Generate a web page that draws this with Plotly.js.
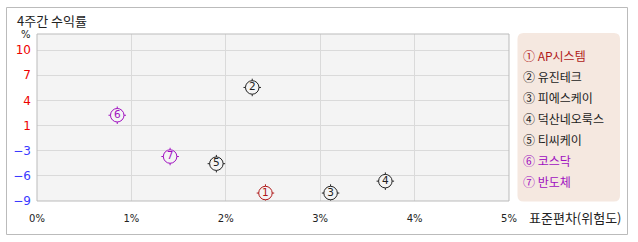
<!DOCTYPE html>
<html><head><meta charset="utf-8">
<script src="https://cdn.plot.ly/plotly-3.0.1.min.js"></script>
<style>body{margin:0;background:#fff}#c{width:638px;height:242px}</style>
</head><body><div id="c"></div>
<script>
var names = ['AP시스템','유진테크','피에스케이','덕산네오룩스','티씨케이','코스닥','반도체'];
var labels = ['①','②','③','④','⑤','⑥','⑦'];
var digits = ['1','2','3','4','5','6','7'];
var stdev = [2.42, 2.28, 3.11, 3.69, 1.90, 0.85, 1.41];
var ret = [-8.0, 5.3, -8.0, -6.5, -4.3, 1.8, -3.4];
var yTickText = ['-9','-6','-3','1','4','7','10'];
var xTickVals = [0,1,2,3,4,5];
var xTickText = ['0%','1%','2%','3%','4%','5%'];

var colorFor = ['#b01818','#222222','#222222','#222222','#222222','#a010c0','#a010c0'];
var W = 638, H = 242, L = 37, R = 129, T = 34, B = 41;
var pw = W - L - R, ph = H - T - B;
function px(x){return (x - L)/pw;}
function py(y){return (H - B - y)/ph;}

var yMin = -9, yMax = 10, nT = 6;
var yTickVals = yTickText.map(function(t,i){return yMin + i*(yMax-yMin)/nT;});
var yTickHtml = yTickText.map(function(t){
  var v = parseFloat(t);
  return '<span style="color:' + (v < 0 ? '#3a3aff' : '#ee0000') + '">' + t.replace('-','−') + '</span>';
});

var traces = [
  {x: stdev, y: ret, type:'scatter', mode:'markers', hoverinfo:'skip',
   marker:{symbol:'cross-thin-open', size:12.5, color:colorFor, line:{color:colorFor, width:1}}},
  {x: stdev, y: ret, type:'scatter', mode:'markers+text', hoverinfo:'skip',
   text: digits, textposition:'middle center',
   textfont:{family:'DejaVu Sans', size:10.5, color:colorFor},
   marker:{symbol:'circle', size:13.5, color:'#f4f4f4', line:{color:colorFor, width:1}}}
];

var ann = [
  {text:'4주간 수익률', x:px(15), y:py(21), xref:'paper', yref:'paper', xanchor:'left', yanchor:'middle', showarrow:false,
   font:{family:'Noto Sans CJK KR', size:13, color:'#222'}},
  {text:'%', x:px(26), y:py(34), xref:'paper', yref:'paper', xanchor:'center', yanchor:'middle', showarrow:false,
   font:{family:'DejaVu Sans', size:10, color:'#222'}},
  {text:'표준편차(위험도)', x:px(527), y:py(217), xref:'paper', yref:'paper', xanchor:'left', yanchor:'middle', showarrow:false,
   font:{family:'Noto Sans CJK KR', size:13, color:'#222'}}
];
var legY = [55, 76, 97, 118, 139, 160, 181];
names.forEach(function(n,i){
  ann.push({text: labels[i] + ' ' + n, x:px(521), y:py(legY[i]), xref:'paper', yref:'paper', xanchor:'left', yanchor:'middle',
    showarrow:false, font:{family:'Noto Sans CJK KR', size:12, color:colorFor[i]}});
});

function rr(x0,y0,x1,y1,r){
  var X=function(v){return px(v);}, Y=function(v){return py(v);};
  return 'M'+X(x0+r)+','+Y(y0)+' L'+X(x1-r)+','+Y(y0)+' Q'+X(x1)+','+Y(y0)+' '+X(x1)+','+Y(y0+r)+
    ' L'+X(x1)+','+Y(y1-r)+' Q'+X(x1)+','+Y(y1)+' '+X(x1-r)+','+Y(y1)+
    ' L'+X(x0+r)+','+Y(y1)+' Q'+X(x0)+','+Y(y1)+' '+X(x0)+','+Y(y1-r)+
    ' L'+X(x0)+','+Y(y0+r)+' Q'+X(x0)+','+Y(y0)+' '+X(x0+r)+','+Y(y0)+' Z';
}

var shapes = [
  {type:'rect', xref:'paper', yref:'paper', x0:px(6.5), x1:px(627.5), y0:py(7.5), y1:py(234.5),
   line:{color:'#bbbbbb', width:1}, fillcolor:'rgba(0,0,0,0)', layer:'below'},
  {type:'path', xref:'paper', yref:'paper', path: rr(517.5,33,620,201.5,6),
   line:{width:0}, fillcolor:'#f5e8e0', layer:'below'},
  {type:'rect', xref:'paper', yref:'paper', x0:0, x1:1, y0:0, y1:1,
   line:{color:'#bbbbbb', width:1}, fillcolor:'rgba(0,0,0,0)', layer:'above'}
];

var layout = {
  width: W, height: H, margin:{l:L, r:R, t:T, b:B, pad:0},
  paper_bgcolor:'#ffffff', plot_bgcolor:'#f4f4f4', showlegend:false,
  font:{family:'DejaVu Sans', size:11, color:'#222'},
  xaxis:{range:[0,5], tickvals:xTickVals, ticktext:xTickText, showgrid:true, gridcolor:'#dadada', gridwidth:1,
    zeroline:false, showline:false, ticks:'', ticklabelstandoff:10, tickfont:{family:'DejaVu Sans', size:10, color:'#222'}, fixedrange:true},
  yaxis:{range:[-9, 12.03], tickvals:yTickVals, ticktext:yTickHtml, showgrid:true, gridcolor:'#dadada', gridwidth:1,
    zeroline:false, showline:false, ticks:'', ticklabelstandoff:5, tickfont:{family:'DejaVu Sans', size:12}, fixedrange:true},
  annotations: ann, shapes: shapes
};
Plotly.newPlot('c', traces, layout, {staticPlot:true, displayModeBar:false});
</script></body></html>
